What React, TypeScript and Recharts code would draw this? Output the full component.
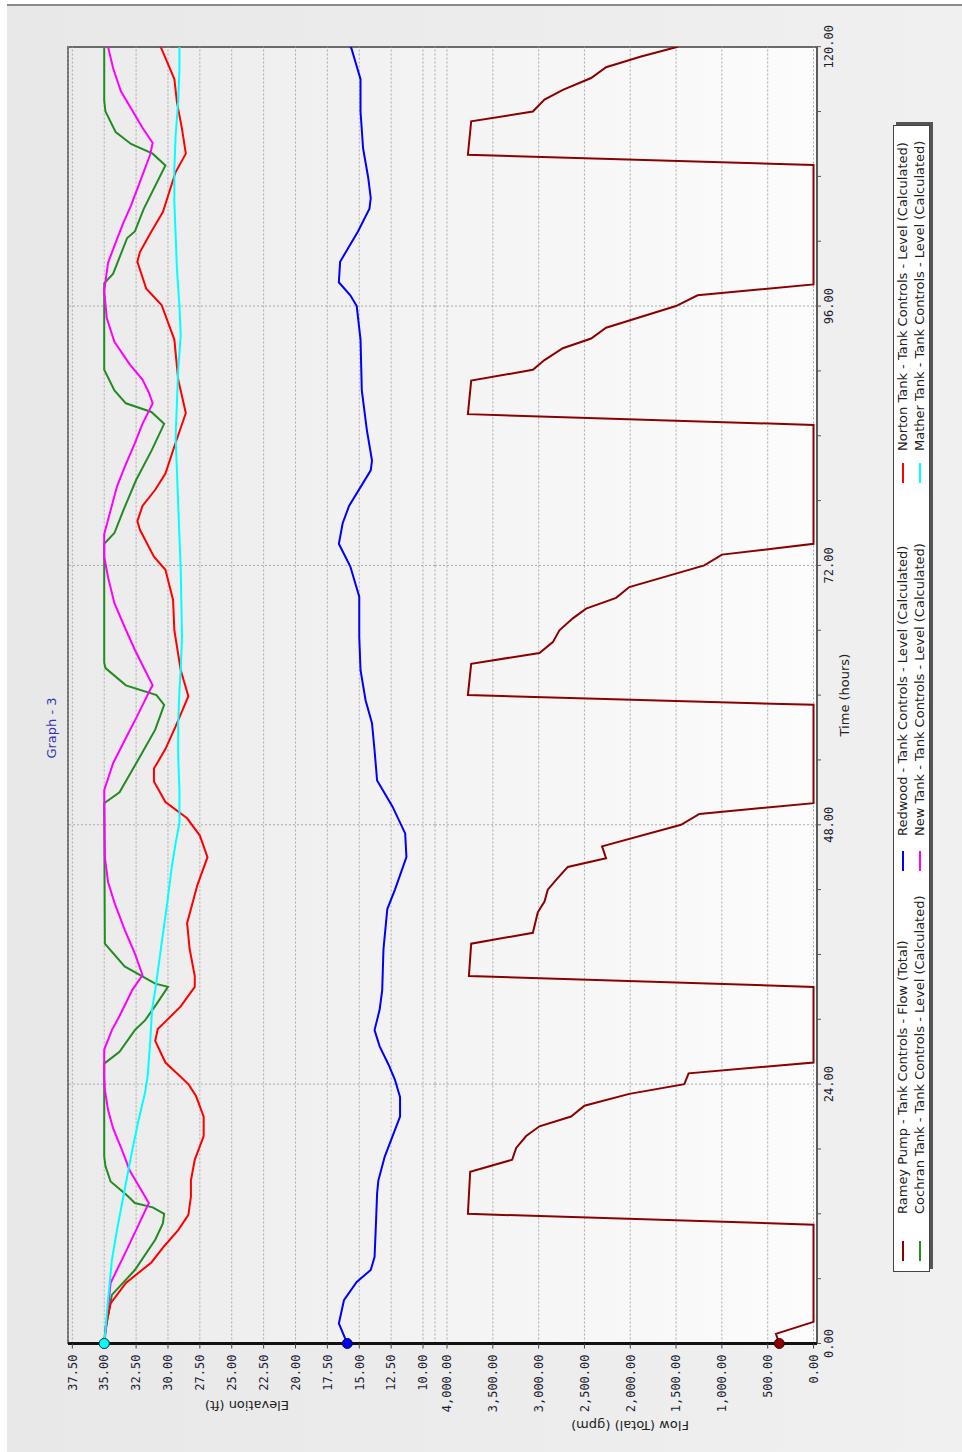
import { LineChart, Line, XAxis, YAxis, CartesianGrid, ReferenceLine, ReferenceDot } from 'recharts';

// hours vs value
const RAMEY_FLOW: [number, number][] = [
  [0, 374], [0.9, 410], [2, 0], [11, 0], [12, 3772], [15.9, 3747], [17, 3289], [18.1, 3245], [19.2, 3136],
  [20.1, 2991], [21, 2646], [22, 2500], [23.1, 2010], [24, 1410], [25, 1363], [26, 0], [33, 0], [34, 3761],
  [37, 3736], [38, 3063], [39.9, 3009], [40.9, 2936], [42, 2900], [42.9, 2809], [44.1, 2682], [44.9, 2264],
  [46, 2308], [48, 1446], [49, 1246], [50, 0], [59.1, 0], [60, 3772], [62.9, 3736], [63.9, 2991], [64.9, 2845],
  [66, 2773], [67.1, 2627], [68, 2482], [69, 2155], [70, 2010], [72, 1192], [73, 999], [74, 0], [85, 0],
  [86, 3772], [89.1, 3736], [90.1, 3063], [91, 2936], [92.1, 2736], [93, 2427], [94, 2264], [96, 1501],
  [97, 1265], [98, 0], [109.05, 0], [110, 3772], [113.1, 3736], [114, 3063], [115.1, 2936], [116, 2736],
  [117.1, 2427], [118.1, 2264], [119.1, 1882], [120, 1480],
];

const COCHRAN_LEVEL: [number, number][] = [
  [0, 35], [1.2, 34.9], [4.5, 34.4], [6.8, 32.6], [9.6, 31], [11.1, 30.4], [12, 30.3], [12.6, 31.2], [13, 32.6],
  [13.7, 33.2], [15, 34.5], [16.4, 34.9], [17.3, 35], [25.9, 35], [27, 33.8], [29, 32.6], [29.9, 31.8],
  [31.4, 30.9], [33, 30], [33.3, 31], [34.9, 33.4], [37, 34.95], [50, 35], [51, 33.8], [54.3, 32.2], [56.8, 31],
  [59.1, 30.3], [60, 30.9], [60.9, 33.3], [62.5, 34.9], [63, 35], [74, 35], [75, 34.2], [77.1, 33.5],
  [79.9, 32.5], [82.6, 31.3], [85.1, 30.3], [86.2, 31.3], [87, 33.3], [88.2, 34.2], [90.1, 35], [98.1, 35],
  [99, 34.3], [102.3, 33.2], [102.9, 32.6], [105, 31.9], [109, 30.2], [110.1, 31.2], [111, 32.9], [112.1, 34.1],
  [114, 34.9], [115, 35], [120, 35],
];

const REDWOOD_LEVEL: [number, number][] = [
  [0, 15.94], [1.85, 16.6], [4, 16.2], [5.7, 15.2], [6.8, 14.1], [8, 13.8], [10.8, 13.7], [13.9, 13.6],
  [15.1, 13.5], [17.3, 13], [21, 11.8], [22.8, 11.8], [24.4, 12.2], [25.8, 12.7], [27.5, 13.4], [29, 13.8],
  [30.9, 13.4], [32.7, 13.2], [36.5, 13.1], [40.2, 12.8], [42, 12.2], [45, 11.3], [47.2, 11.4], [49.7, 12.4],
  [52.1, 13.6], [54.9, 13.8], [57.4, 14], [59.5, 14.5], [62.3, 14.9], [65.4, 15], [69.1, 15], [71.9, 15.7],
  [74, 16.6], [75.9, 16.3], [77.5, 15.8], [80.8, 14.1], [81.7, 14], [84.5, 14.4], [88.2, 14.8], [92.9, 14.9],
  [96, 15.2], [97, 15.7], [98.2, 16.6], [100.1, 16.5], [101.3, 15.9], [102.9, 15.1], [105, 14.2], [106, 14.1],
  [107.9, 14.3], [110.6, 14.7], [114, 14.9], [117, 14.9], [119.8, 15.6], [120, 15.7],
];

const NEWTANK_LEVEL: [number, number][] = [
  [0, 35], [2, 34.8], [5.6, 34.5], [8.5, 33.3], [11, 32.3], [13, 31.5], [16, 33], [17.9, 33.6], [19.9, 34.3],
  [21.6, 34.7], [23.5, 34.95], [24.7, 35], [27.2, 35], [29, 34.4], [30.3, 33.8], [32.7, 32.8], [34.1, 32],
  [36.1, 32.6], [38.3, 33.4], [40.8, 34.2], [42.7, 34.7], [45, 34.95], [51.2, 35], [53.7, 34.3], [55.8, 33.4],
  [58.1, 32.4], [60.5, 31.4], [60.9, 31.2], [62.3, 31.8], [64.2, 32.6], [66.3, 33.4], [68.5, 34.2], [70.9, 34.7],
  [72.8, 35], [74.9, 35], [77.1, 34.5], [79.3, 34], [81.1, 33.4], [83.3, 32.6], [85.1, 32], [87, 31.2],
  [88, 31.5], [89.2, 32], [90.6, 33], [92.7, 34.2], [94.9, 34.8], [97.4, 35], [100, 34.7], [102.2, 34],
  [103.7, 33.5], [105.3, 32.9], [107.5, 32.2], [110, 31.4], [111.1, 31.2], [112.5, 32], [113.7, 32.6],
  [115.9, 33.7], [118, 34.3], [120, 34.7],
];

const NORTON_LEVEL: [number, number][] = [
  [0, 35], [1.5, 34.9], [3.7, 34.5], [5.6, 33.3], [7.5, 31.3], [9, 30.3], [10.5, 29.2], [11.9, 28.4], [13.6, 28.2],
  [15.1, 28.2], [17, 27.9], [19.2, 27.2], [21, 27.2], [22.9, 27.8], [24, 28.4], [26, 30.2], [28, 31], [29.1, 30.8],
  [29.9, 30.1], [31.2, 29], [33, 27.9], [34, 27.9], [36.5, 28.3], [38.9, 28.5], [42.4, 27.7], [45, 26.9],
  [47, 27.5], [48.6, 28.5], [50.1, 30.2], [52, 31.1], [53.2, 31.1], [55, 30.2], [57.1, 29.4], [59.9, 28.4],
  [62.3, 29], [66, 29.5], [68.8, 29.6], [71.6, 30.2], [72.8, 31.1], [75.3, 32.2], [76.1, 32.4], [77.5, 32],
  [79, 31], [80.5, 30.2], [83, 29.5], [86.1, 28.6], [89.2, 29.2], [92.9, 29.5], [96.1, 30.5], [97.6, 31.7],
  [100.1, 32.4], [101, 32.2], [102.9, 31.3], [104.7, 30.4], [108.4, 29.4], [110.1, 28.6], [112.4, 28.9],
  [114.9, 29.3], [117, 29.5], [119.8, 30.5], [120, 30.6],
];

const MATHER_LEVEL: [number, number][] = [
  [0, 35], [4, 34.7], [7.7, 34.4], [10.5, 34], [13.6, 33.5], [17.9, 32.8], [20.7, 32.3], [23.2, 31.8],
  [24.7, 31.6], [27.8, 31.4], [30.9, 31.25], [32.7, 31], [37, 30.5], [40.4, 30.1], [44.1, 29.7], [46.3, 29.4],
  [48.2, 29.1], [51.2, 29.1], [54.3, 29.2], [57.4, 29.2], [60.5, 29.1], [62.3, 29], [65.4, 28.9], [71.6, 29],
  [74.6, 29.1], [77.7, 29.2], [80.8, 29.3], [83.9, 29.4], [87, 29.3], [90.1, 29.2], [93.3, 29], [96, 29.1],
  [99.5, 29.3], [102.6, 29.4], [105.6, 29.5], [108.7, 29.5], [111.8, 29.4], [114.9, 29.2], [118, 29.1], [120, 29.1],
];

const TIME_TICKS = [0, 6, 12, 18, 24, 30, 36, 42, 48, 54, 60, 66, 72, 78, 84, 90, 96, 102, 108, 114, 120];
const TIME_GRID = [24, 48, 72, 96];
const ELEV_TICKS = [10, 12.5, 15, 17.5, 20, 22.5, 25, 27.5, 30, 32.5, 35, 37.5];
const FLOW_TICKS = [0, 500, 1000, 1500, 2000, 2500, 3000, 3500, 4000];

const LEGEND = [
  { name: 'Ramey Pump - Tank Controls - Flow (Total)', color: '#8b0000' },
  { name: 'Cochran Tank - Tank Controls - Level (Calculated)', color: '#228b22' },
  { name: 'Redwood - Tank Controls - Level (Calculated)', color: '#0000ff' },
  { name: 'New Tank - Tank Controls - Level (Calculated)', color: '#ff00ff' },
  { name: 'Norton Tank - Tank Controls - Level (Calculated)', color: '#ff0000' },
  { name: 'Mather Tank - Tank Controls - Level (Calculated)', color: '#00ffff' },
];

const pts = (arr: [number, number][]) => arr.map(([t, v]) => ({ t, v }));

// landscape layout, rotated into the portrait page afterwards
const W = 1452;
const PLOT_L = 108.5;
const PLOT_R = 1405.3;
const PLOT_T = 68;
const SPLIT = 435;
const PLOT_B = 817;

const tickStyle = { fontFamily: 'DejaVu Sans Mono', fontSize: 12, fill: '#1c1c30' };
const gridColor = '#a9a9a9';
const sans = 'DejaVu Sans';

const levelLines = [
  { data: COCHRAN_LEVEL, color: '#228b22' },
  { data: REDWOOD_LEVEL, color: '#0000ff' },
  { data: NEWTANK_LEVEL, color: '#ff00ff' },
  { data: NORTON_LEVEL, color: '#ff0000' },
  { data: MATHER_LEVEL, color: '#00ffff' },
];

function ElevationChart() {
  return (
    <LineChart width={W} height={SPLIT} margin={{ top: PLOT_T, right: W - PLOT_R, bottom: 0, left: 0 }}>
      <CartesianGrid vertical={false} stroke={gridColor} strokeDasharray="2 2" />
      <XAxis type="number" dataKey="t" domain={[0, 120]} hide allowDataOverflow />
      <YAxis
        type="number"
        domain={[9.06, 37.84]}
        ticks={ELEV_TICKS}
        interval={0}
        width={PLOT_L}
        tickSize={5}
        tickMargin={6}
        tick={tickStyle}
        tickFormatter={(v: number) => v.toFixed(2)}
        axisLine={{ stroke: '#111', strokeWidth: 3 }}
        tickLine={{ stroke: '#444' }}
        allowDataOverflow
      />
      {TIME_GRID.map((t) => (
        <ReferenceLine key={t} x={t} stroke={gridColor} strokeDasharray="2 2" />
      ))}
      {levelLines.map((s, i) => (
        <Line
          key={i}
          data={pts(s.data)}
          dataKey="v"
          type="linear"
          stroke={s.color}
          strokeWidth={2}
          dot={false}
          isAnimationActive={false}
        />
      ))}
      <ReferenceDot x={0} y={REDWOOD_LEVEL[0][1]} r={5} fill="#0000ee" stroke="#000066" strokeWidth={1} />
      <ReferenceDot x={0} y={NORTON_LEVEL[0][1]} r={5} fill="#ff0000" stroke="#333" strokeWidth={1} />
      <ReferenceDot x={0} y={MATHER_LEVEL[0][1]} r={5} fill="#00ffff" stroke="#1d4f4f" strokeWidth={1} />
    </LineChart>
  );
}

function FlowChart() {
  return (
    <LineChart width={W} height={PLOT_B - SPLIT + 30} margin={{ top: 0, right: W - PLOT_R, bottom: 0, left: 0 }}>
      <CartesianGrid vertical={false} stroke={gridColor} strokeDasharray="2 2" />
      <XAxis
        type="number"
        dataKey="t"
        domain={[0, 120]}
        ticks={TIME_TICKS}
        interval={0}
        height={30}
        tickSize={4}
        tickMargin={3}
        tick={tickStyle}
        tickFormatter={(v: number) => (v % 24 === 0 ? v.toFixed(2) : '')}
        axisLine={{ stroke: '#5a5a5a', strokeWidth: 2 }}
        tickLine={{ stroke: '#555' }}
        allowDataOverflow
      />
      <YAxis
        type="number"
        domain={[-38, 4131]}
        ticks={FLOW_TICKS}
        interval={0}
        width={PLOT_L}
        tickSize={5}
        tickMargin={6}
        tick={tickStyle}
        tickFormatter={(v: number) => v.toLocaleString('en-US', { minimumFractionDigits: 2, maximumFractionDigits: 2 })}
        axisLine={{ stroke: '#111', strokeWidth: 3 }}
        tickLine={{ stroke: '#444' }}
        allowDataOverflow
      />
      {TIME_GRID.map((t) => (
        <ReferenceLine key={t} x={t} stroke={gridColor} strokeDasharray="2 2" />
      ))}
      <Line
        data={pts(RAMEY_FLOW)}
        dataKey="v"
        type="linear"
        stroke="#8b0000"
        strokeWidth={2}
        dot={false}
        isAnimationActive={false}
      />
      <ReferenceDot x={0} y={RAMEY_FLOW[0][1]} r={5} fill="#8b0000" stroke="#3a0000" strokeWidth={1} />
    </LineChart>
  );
}

function Legend() {
  // landscape x of each column: colour swatch, then text
  const swatchX = [10, 400, 788];
  const textX = [57, 435, 820];
  return (
    <div
      style={{
        position: 'absolute',
        left: 180,
        top: 893,
        width: 1147,
        height: 37,
        boxSizing: 'border-box',
        border: '1px solid #444',
        boxShadow: '3px 3px 0 #555',
        background: '#fff',
        fontFamily: sans,
        fontSize: 13,
        color: '#222',
      }}
    >
      {LEGEND.map((item, i) => {
        const col = Math.floor(i / 2);
        const row = i % 2;
        const top = 1 + row * 17;
        return (
          <div key={item.name}>
            <span
              style={{ position: 'absolute', left: swatchX[col], top: top + 7, width: 20, height: 2, background: item.color }}
            />
            <span style={{ position: 'absolute', left: textX[col], top, lineHeight: '16px', whiteSpace: 'nowrap' }}>
              {item.name}
            </span>
          </div>
        );
      })}
    </div>
  );
}

function RotatedLabel({ text, cx, cy }: { text: string; cx: number; cy: number }) {
  return (
    <div
      style={{
        position: 'absolute',
        left: cx,
        top: cy,
        transform: 'translate(-50%, -50%) rotate(-90deg)',
        whiteSpace: 'nowrap',
        fontFamily: sans,
        fontSize: 13,
        color: '#222',
      }}
    >
      {text}
    </div>
  );
}

export default function App() {
  return (
    <div style={{ position: 'absolute', left: 0, top: 0, width: 962, height: 1452, overflow: 'hidden', background: '#fff' }}>
      <div
        style={{
          position: 'absolute',
          left: 0,
          top: 0,
          width: W,
          height: 962,
          transformOrigin: '0 0',
          transform: 'translateY(1452px) rotate(-90deg)',
        }}
      >
        <div
          style={{
            position: 'absolute',
            left: 0,
            top: 7,
            width: 1448,
            height: 955,
            boxSizing: 'border-box',
            borderRight: '2px solid #8a8a8a',
            background: 'linear-gradient(to bottom, #e8e8e8, #f0f0f0)',
          }}
        />
        <div
          style={{
            position: 'absolute',
            left: PLOT_L - 1,
            top: PLOT_T - 1,
            width: PLOT_R - PLOT_L + 2,
            height: PLOT_B - PLOT_T + 2,
            boxSizing: 'border-box',
            border: '2px solid #6a6a6a',
            background: 'linear-gradient(to bottom, #ebebeb, #fcfcfc)',
          }}
        />
        <div style={{ position: 'absolute', left: 0, top: 44, width: 1448, textAlign: 'center', fontFamily: sans, fontSize: 13, color: '#3c32b4' }}>
          Graph - 3
        </div>
        <div style={{ position: 'absolute', left: 0, top: 0 }}>
          <ElevationChart />
        </div>
        <div style={{ position: 'absolute', left: 0, top: SPLIT }}>
          <FlowChart />
        </div>
        <RotatedLabel text="Elevation (ft)" cx={47} cy={247} />
        <RotatedLabel text="Flow (Total) (gpm)" cx={27} cy={630} />
        <div
          style={{
            position: 'absolute',
            left: PLOT_L,
            top: 837,
            width: PLOT_R - PLOT_L,
            textAlign: 'center',
            fontFamily: sans,
            fontSize: 13,
            color: '#222',
          }}
        >
          Time (hours)
        </div>
        <Legend />
      </div>
    </div>
  );
}
